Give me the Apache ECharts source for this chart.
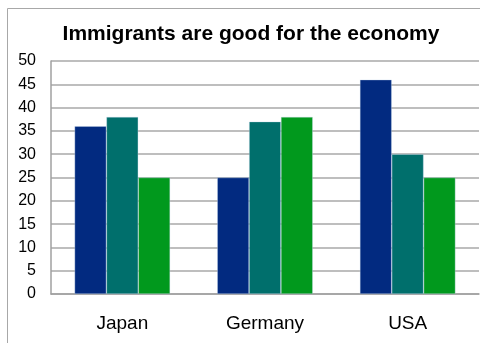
<!DOCTYPE html>
<html>
<head>
<meta charset="utf-8">
<script src="https://cdn.jsdelivr.net/npm/echarts@6/dist/echarts.min.js"></script>
<style>
  html, body { margin: 0; padding: 0; background: #fff; }
  #chart { width: 490px; height: 343px; }
</style>
</head>
<body>
<div id="chart"></div>
<script>
// Survey: share agreeing that immigrants are good for the economy
const countries = ['Japan', 'Germany', 'USA'];
const seriesA = [36, 25, 46];
const seriesB = [38, 37, 30];
const seriesC = [25, 38, 25];
const barColors = ['#022a80', '#006f6c', '#01991d'];

const chart = echarts.init(document.getElementById('chart'), null, { renderer: 'canvas' });

const makeBar = (name, data, color) => ({
  name: name,
  type: 'bar',
  data: data,
  barGap: '0%',
  barCategoryGap: '33%',
  itemStyle: { color: color, borderColor: 'rgba(200,215,235,0.6)', borderWidth: 0.6 }
});

chart.setOption({
  animation: false,
  title: {
    text: 'Immigrants are good for the economy',
    left: 246,
    textAlign: 'center',
    top: 19,
    textStyle: { fontFamily: 'Liberation Sans', fontWeight: 'bold', fontSize: 21, color: '#000' }
  },
  graphic: [{
    type: 'polyline',
    shape: { points: [[7.5, 343], [7.5, 8.5], [480, 8.5]] },
    style: { stroke: '#a8a8a8', lineWidth: 1, fill: null },
    silent: true
  }],
  grid: { left: 51, right: 11, top: 61, bottom: 49, containLabel: false },
  xAxis: {
    type: 'category',
    data: countries,
    axisLine: { lineStyle: { color: '#a0a0a0', width: 1.5 } },
    axisTick: { show: false },
    axisLabel: { fontFamily: 'Liberation Sans', fontSize: 19, color: '#000', margin: 20 }
  },
  yAxis: {
    type: 'value',
    min: 0,
    max: 50,
    interval: 5,
    axisLine: { show: true, lineStyle: { color: '#a0a0a0', width: 1.5 } },
    axisTick: { show: false },
    splitLine: { lineStyle: { color: '#a8a8a8', width: 1.5 } },
    axisLabel: { fontFamily: 'Liberation Sans', fontSize: 16, color: '#000', margin: 15 }
  },
  series: [
    makeBar('A', seriesA, barColors[0]),
    makeBar('B', seriesB, barColors[1]),
    makeBar('C', seriesC, barColors[2])
  ]
});
</script>
</body>
</html>
